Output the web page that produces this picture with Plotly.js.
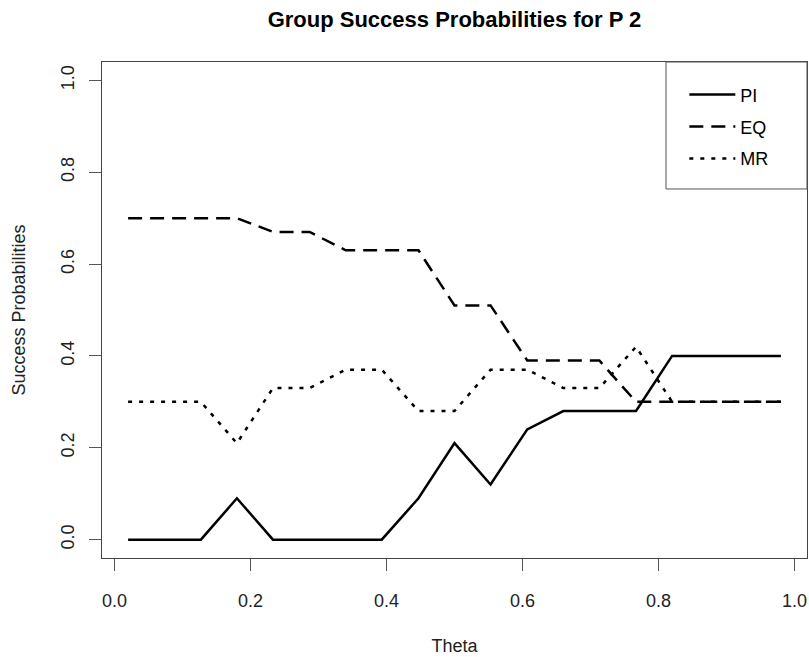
<!DOCTYPE html>
<html>
<head>
<meta charset="utf-8">
<script src="https://cdn.plot.ly/plotly-3.0.1.min.js"></script>
<style>html,body{margin:0;padding:0;background:#fff;} #chart{width:809px;height:657px;}</style>
</head>
<body>
<div id="chart"></div>
<script>
// Data
const theta = [0.02, 0.073, 0.127, 0.18, 0.233, 0.287, 0.34, 0.393, 0.447, 0.5,
               0.553, 0.607, 0.66, 0.713, 0.767, 0.82, 0.873, 0.927, 0.98];
const piValues = [0, 0, 0, 0.09, 0, 0, 0, 0, 0.09, 0.21, 0.12, 0.24, 0.28, 0.28, 0.28, 0.40, 0.40, 0.40, 0.40];
const eqValues = [0.70, 0.70, 0.70, 0.70, 0.67, 0.67, 0.63, 0.63, 0.63, 0.51, 0.51, 0.39, 0.39, 0.39, 0.30, 0.30, 0.30, 0.30, 0.30];
const mrValues = [0.30, 0.30, 0.30, 0.21, 0.33, 0.33, 0.37, 0.37, 0.28, 0.28, 0.37, 0.37, 0.33, 0.33, 0.42, 0.30, 0.30, 0.30, 0.30];
const seriesNames = ["PI", "EQ", "MR"];
const xTicks = [0.0, 0.2, 0.4, 0.6, 0.8, 1.0];
const yTicks = [0.0, 0.2, 0.4, 0.6, 0.8, 1.0];

const FONT = "Liberation Sans, Arial, Helvetica, sans-serif";

const dashes = ["solid", "14px,8px", "4px,7px"];
const allValues = [piValues, eqValues, mrValues];
const traces = allValues.map((v, i) => ({
  x: theta, y: v, type: "scatter", mode: "lines",
  name: seriesNames[i], legendgroup: seriesNames[i],
  line: {color: "#000", width: 2.5, dash: dashes[i]}
}));

const layout = {
  width: 809, height: 657,
  margin: {l: 102, r: 2, t: 62, b: 99, pad: 0},
  paper_bgcolor: "#fff", plot_bgcolor: "#fff",
  font: {family: FONT, size: 18, color: "#000"},
  title: {
    text: "<b>Group Success Probabilities for P 2</b>",
    font: {family: FONT, size: 22, color: "#000"},
    x: 0.5, xref: "paper", y: 0.982, yref: "container", yanchor: "top", pad: {t: 0, b: 0}
  },
  showlegend: true,
  legend: {
    x: 0.826, xanchor: "left", y: 0.971, yanchor: "top",
    bgcolor: "rgba(0,0,0,0)", borderwidth: 0,
    font: {family: FONT, size: 18, color: "#000"},
    tracegroupgap: 5.5, itemwidth: 46
  },
  xaxis: {
    range: [-0.0184, 1.0184], tickvals: xTicks, ticktext: xTicks.map(v => v.toFixed(1)),
    showgrid: false, zeroline: false,
    showline: true, mirror: true, linecolor: "#444", linewidth: 1,
    ticks: "outside", ticklen: 12, tickcolor: "#555", tickwidth: 1,
    ticklabelstandoff: 14,
    tickfont: {family: FONT, size: 18, color: "#222"},
    title: {text: "Theta", font: {family: FONT, size: 18, color: "#222"}, standoff: 29},
    automargin: false
  },
  yaxis: {
    range: [-0.04, 1.04], tickvals: yTicks, ticktext: yTicks.map(v => v.toFixed(1)),
    showgrid: false, zeroline: false,
    showline: true, mirror: true, linecolor: "#444", linewidth: 1,
    ticks: "outside", ticklen: 12, tickcolor: "#555", tickwidth: 1,
    tickangle: -90, ticklabelstandoff: 8,
    tickfont: {family: FONT, size: 18, color: "#222"},
    title: {text: "Success Probabilities", font: {family: FONT, size: 18, color: "#222"}, standoff: 27},
    automargin: false
  },
  shapes: [
    {type: "rect", xref: "paper", yref: "paper", x0: 0.8, x1: 1, y0: 0.744, y1: 1,
     line: {color: "#555", width: 1}, fillcolor: "rgba(0,0,0,0)", layer: "above"}
  ]
};

Plotly.newPlot("chart", traces, layout, {staticPlot: true, displayModeBar: false});
</script>
</body>
</html>
